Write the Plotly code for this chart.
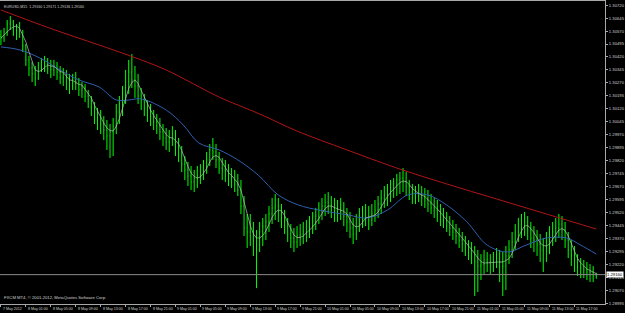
import pandas as pd
import plotly.graph_objects as go

symbol_title = "EURUSD,M15  1.29160 1.29171 1.29136 1.29160"
footer_text = "FXCM MT4, \u00a9 2001-2012, MetaQuotes Software Corp."
bar_start = "2012-05-07 21:00"
first_open = 1.30540
last_price = 1.29160

bar_high = [
1.30576,1.30588,1.30634,1.30657,1.30634,1.30611,1.30623,1.30576,
1.30495,1.30426,1.30391,1.30368,1.30391,1.30414,1.30426,1.30414,
1.30403,1.30403,1.30391,1.30368,1.30356,1.30345,1.30322,1.30322,
1.30333,1.30298,1.30275,1.30264,1.30229,1.30194,1.30159,1.30125,
1.30113,1.30078,1.30055,1.30032,1.30067,1.30148,1.30194,1.30252,
1.30345,1.30403,1.30437,1.30368,1.30322,1.30240,1.30206,1.30171,
1.30148,1.30113,1.30090,1.30067,1.30032,1.30009,1.29997,1.30020,
1.29997,1.29951,1.29905,1.29847,1.29812,1.29789,1.29766,1.29789,
1.29800,1.29824,1.29870,1.29916,1.29951,1.29916,1.29870,1.29835,
1.29824,1.29800,1.29777,1.29766,1.29743,1.29708,1.29615,1.29511,
1.29511,1.29465,1.29418,1.29465,1.29488,1.29511,1.29557,1.29604,
1.29627,1.29604,1.29569,1.29534,1.29488,1.29453,1.29430,1.29441,
1.29453,1.29465,1.29476,1.29499,1.29523,1.29546,1.29580,1.29604,
1.29627,1.29638,1.29615,1.29604,1.29592,1.29604,1.29580,1.29546,
1.29523,1.29488,1.29511,1.29546,1.29557,1.29569,1.29557,1.29569,
1.29592,1.29615,1.29650,1.29673,1.29685,1.29708,1.29719,1.29743,
1.29754,1.29777,1.29754,1.29708,1.29685,1.29673,1.29685,1.29673,
1.29661,1.29650,1.29627,1.29604,1.29592,1.29569,1.29546,1.29523,
1.29499,1.29476,1.29453,1.29430,1.29407,1.29384,1.29360,1.29349,
1.29326,1.29303,1.29279,1.29303,1.29291,1.29279,1.29291,1.29314,
1.29303,1.29291,1.29326,1.29360,1.29407,1.29453,1.29488,1.29511,
1.29523,1.29499,1.29465,1.29441,1.29418,1.29395,1.29372,1.29407,
1.29441,1.29465,1.29488,1.29511,1.29499,1.29465,1.29407,1.29360,
1.29326,1.29279,1.29256,1.29245,1.29233,1.29221,1.29210,1.29171,
]

bar_low = [
1.30489,1.30507,1.30542,1.30576,1.30542,1.30518,1.30530,1.30449,
1.30368,1.30310,1.30275,1.30252,1.30287,1.30333,1.30333,1.30322,
1.30298,1.30310,1.30287,1.30264,1.30252,1.30229,1.30206,1.30229,
1.30229,1.30194,1.30183,1.30159,1.30125,1.30078,1.30032,1.29997,
1.29974,1.29939,1.29882,1.29835,1.29847,1.29974,1.30032,1.30078,
1.30148,1.30206,1.30240,1.30183,1.30148,1.30113,1.30078,1.30044,
1.30020,1.29997,1.29974,1.29939,1.29905,1.29882,1.29870,1.29905,
1.29847,1.29812,1.29754,1.29708,1.29673,1.29650,1.29638,1.29661,
1.29685,1.29708,1.29743,1.29789,1.29824,1.29777,1.29743,1.29708,
1.29696,1.29673,1.29661,1.29638,1.29615,1.29511,1.29384,1.29314,
1.29326,1.29268,1.29082,1.29291,1.29326,1.29360,1.29407,1.29453,
1.29476,1.29465,1.29430,1.29395,1.29349,1.29314,1.29291,1.29314,
1.29326,1.29337,1.29349,1.29372,1.29395,1.29418,1.29453,1.29476,
1.29499,1.29511,1.29488,1.29465,1.29465,1.29476,1.29441,1.29407,
1.29372,1.29337,1.29360,1.29407,1.29430,1.29441,1.29418,1.29441,
1.29465,1.29488,1.29511,1.29546,1.29557,1.29580,1.29604,1.29615,
1.29627,1.29638,1.29615,1.29592,1.29569,1.29569,1.29580,1.29557,
1.29546,1.29523,1.29511,1.29488,1.29465,1.29441,1.29430,1.29407,
1.29384,1.29360,1.29337,1.29314,1.29291,1.29268,1.29245,1.29221,
1.29036,1.29059,1.29129,1.29164,1.29175,1.29164,1.29175,1.29198,
1.29117,1.29036,1.29071,1.29221,1.29256,1.29303,1.29349,1.29372,
1.29384,1.29360,1.29314,1.29291,1.29268,1.29233,1.29175,1.29233,
1.29279,1.29326,1.29349,1.29372,1.29360,1.29314,1.29256,1.29210,
1.29175,1.29152,1.29140,1.29140,1.29129,1.29117,1.29117,1.29136,
]

bar_close = [
1.30530,1.30565,1.30611,1.30623,1.30576,1.30588,1.30553,1.30484,
1.30403,1.30356,1.30322,1.30298,1.30368,1.30379,1.30391,1.30356,
1.30345,1.30368,1.30333,1.30298,1.30322,1.30275,1.30252,1.30287,
1.30275,1.30229,1.30240,1.30194,1.30171,1.30125,1.30078,1.30044,
1.30032,1.29997,1.29963,1.29986,1.30020,1.30102,1.30148,1.30194,
1.30275,1.30333,1.30287,1.30252,1.30194,1.30171,1.30125,1.30090,
1.30067,1.30044,1.30020,1.29986,1.29951,1.29928,1.29951,1.29974,
1.29893,1.29847,1.29800,1.29766,1.29731,1.29696,1.29719,1.29731,
1.29754,1.29789,1.29824,1.29882,1.29870,1.29824,1.29777,1.29766,
1.29743,1.29719,1.29708,1.29685,1.29650,1.29557,1.29430,1.29407,
1.29384,1.29360,1.29337,1.29407,1.29441,1.29465,1.29511,1.29546,
1.29557,1.29523,1.29488,1.29441,1.29395,1.29372,1.29349,1.29384,
1.29395,1.29407,1.29430,1.29441,1.29465,1.29499,1.29534,1.29557,
1.29580,1.29557,1.29534,1.29523,1.29546,1.29534,1.29499,1.29465,
1.29430,1.29395,1.29453,1.29488,1.29511,1.29499,1.29476,1.29511,
1.29534,1.29569,1.29604,1.29627,1.29650,1.29661,1.29685,1.29708,
1.29719,1.29696,1.29673,1.29638,1.29627,1.29638,1.29615,1.29604,
1.29592,1.29569,1.29546,1.29534,1.29511,1.29488,1.29465,1.29441,
1.29430,1.29407,1.29384,1.29360,1.29337,1.29314,1.29303,1.29279,
1.29233,1.29210,1.29221,1.29245,1.29233,1.29210,1.29233,1.29256,
1.29233,1.29210,1.29268,1.29303,1.29349,1.29407,1.29441,1.29453,
1.29465,1.29418,1.29372,1.29360,1.29337,1.29303,1.29314,1.29349,
1.29384,1.29407,1.29430,1.29453,1.29418,1.29360,1.29303,1.29268,
1.29233,1.29210,1.29198,1.29187,1.29175,1.29175,1.29152,1.29160,
]

ma_blue_time = [
"2012-05-07 21:00","2012-05-08 00:00","2012-05-08 03:15","2012-05-08 06:30",
"2012-05-08 09:30","2012-05-08 12:45","2012-05-08 15:30","2012-05-08 17:30",
"2012-05-08 19:30","2012-05-08 23:30","2012-05-09 02:15","2012-05-09 04:45",
"2012-05-09 08:00","2012-05-09 11:00","2012-05-09 14:15","2012-05-09 17:30",
"2012-05-09 20:45","2012-05-10 00:00","2012-05-10 04:45","2012-05-10 07:45",
"2012-05-10 11:00","2012-05-10 14:15","2012-05-10 17:30","2012-05-10 20:30",
"2012-05-10 23:45","2012-05-11 03:00","2012-05-11 06:15","2012-05-11 09:15",
"2012-05-11 12:30","2012-05-11 15:45","2012-05-11 18:00","2012-05-11 20:30",
]
ma_blue_value = [
1.30478,1.30461,1.30414,1.30345,1.30287,1.30246,1.30171,1.30171,
1.30177,1.30113,1.30026,1.29922,1.29882,1.29824,1.29737,1.29621,
1.29563,1.29534,1.29505,1.29488,1.29534,1.29621,1.29621,1.29563,
1.29465,1.29331,1.29291,1.29331,1.29372,1.29372,1.29331,1.29279,
]

ma_red_time = [
"2012-05-07 21:00","2012-05-08 04:45","2012-05-08 12:45","2012-05-08 17:45",
"2012-05-08 23:30","2012-05-09 08:00","2012-05-09 14:30","2012-05-09 20:30",
"2012-05-10 04:30","2012-05-10 12:30","2012-05-10 20:30","2012-05-11 04:30",
"2012-05-11 12:30","2012-05-11 20:30",
]
ma_red_value = [
1.30692,1.30588,1.30489,1.30426,1.30345,1.30188,1.30090,1.29991,
1.29882,1.29777,1.29685,1.29598,1.29511,1.29424,
]

x_tick_time = [
"2012-05-07 21:00","2012-05-08 01:00","2012-05-08 05:00","2012-05-08 09:00",
"2012-05-08 13:00","2012-05-08 17:00","2012-05-08 21:00","2012-05-09 01:00",
"2012-05-09 05:00","2012-05-09 09:00","2012-05-09 13:00","2012-05-09 17:00",
"2012-05-09 21:00","2012-05-10 01:00","2012-05-10 05:00","2012-05-10 09:00",
"2012-05-10 13:00","2012-05-10 17:00","2012-05-10 21:00","2012-05-11 01:00",
"2012-05-11 05:00","2012-05-11 09:00","2012-05-11 13:00","2012-05-11 17:00",
]
x_tick_text = [
"7 May 2012","8 May 01:00","8 May 05:00","8 May 09:00","8 May 13:00","8 May 17:00",
"8 May 21:00","9 May 01:00","9 May 05:00","9 May 09:00","9 May 13:00","9 May 17:00",
"9 May 21:00","10 May 01:00","10 May 05:00","10 May 09:00","10 May 13:00","10 May 17:00",
"10 May 21:00","11 May 01:00","11 May 05:00","11 May 09:00","11 May 13:00","11 May 17:00",
]
y_tick_text = [
"1.30720","1.30645","1.30570","1.30495","1.30420","1.30345","1.30270","1.30195",
"1.30120","1.30045","1.29970","1.29895","1.29820","1.29745","1.29670","1.29595",
"1.29520","1.29445","1.29370","1.29295","1.29220","1.29145","1.29070","1.28995",
]

FONT = "Liberation Sans"
TXT = "#d0d0d0"

times = pd.date_range(bar_start, periods=len(bar_close), freq="30min")
closes = pd.Series(bar_close)
opens = [first_open] + bar_close[:-1]
fast_ma = closes.rolling(4, min_periods=1).mean()

fig = go.Figure()
fig.add_trace(go.Ohlc(
    x=times, open=opens, high=bar_high, low=bar_low, close=bar_close,
    increasing=dict(line=dict(color="#00ff00", width=1)),
    decreasing=dict(line=dict(color="#00ff00", width=1)),
    tickwidth=0.15, showlegend=False, hoverinfo="skip"))
fig.add_trace(go.Scatter(x=ma_red_time, y=ma_red_value, mode="lines",
                         line=dict(color="#b01515", width=1, shape="spline"),
                         showlegend=False, hoverinfo="skip"))
fig.add_trace(go.Scatter(x=ma_blue_time, y=ma_blue_value, mode="lines",
                         line=dict(color="#2f5fb0", width=1, shape="spline"),
                         showlegend=False, hoverinfo="skip"))
fig.add_trace(go.Scatter(x=times, y=fast_ma, mode="lines",
                         line=dict(color="#c0c0c0", width=0.7),
                         showlegend=False, hoverinfo="skip"))

annotations = [
    dict(text=symbol_title, xref="paper", yref="paper", x=0, y=1, xanchor="left",
         yanchor="top", xshift=2, yshift=-2, showarrow=False,
         font=dict(family=FONT, size=3.6, color=TXT)),
    dict(text=footer_text, xref="paper", yref="paper", x=0, y=0, xanchor="left",
         yanchor="bottom", xshift=2, yshift=2, showarrow=False,
         font=dict(family=FONT, size=4.2, color=TXT)),
    dict(text=f"{last_price:.5f}", xref="paper", yref="y", x=1, y=last_price,
         xanchor="left", yanchor="middle", xshift=1, showarrow=False,
         bgcolor="#ffffff", borderpad=0,
         font=dict(family=FONT, size=4.2, color="#000000")),
]
for t, s in zip(x_tick_time, x_tick_text):
    annotations.append(dict(text=s, xref="x", yref="paper", x=t, y=0,
                            xanchor="left", yanchor="top", yshift=-1, showarrow=False,
                            font=dict(family=FONT, size=3.6, color=TXT)))

fig.update_layout(
    width=625, height=313,
    margin=dict(l=0, r=16, t=1, b=9),
    paper_bgcolor="#000000", plot_bgcolor="#000000",
    showlegend=False,
    annotations=annotations,
    shapes=[dict(type="line", xref="paper", yref="y", x0=0, x1=1,
                 y0=last_price, y1=last_price, line=dict(color="#8a8a8a", width=1))],
    xaxis=dict(type="date", range=["2012-05-07 20:51", "2012-05-11 21:54"],
               rangeslider=dict(visible=False), showgrid=False, zeroline=False,
               showline=True, linecolor="#a8a8a8", linewidth=1, mirror=True,
               tickmode="array", tickvals=x_tick_time, showticklabels=False,
               ticks="outside", ticklen=2, tickcolor="#a8a8a8"),
    yaxis=dict(side="right", range=[1.28990, 1.30744], showgrid=False, zeroline=False,
               showline=True, linecolor="#a8a8a8", linewidth=1,
               tickmode="array", tickvals=[float(v) for v in y_tick_text],
               ticktext=y_tick_text, ticks="outside", ticklen=2, tickcolor="#a8a8a8",
               tickfont=dict(family=FONT, size=4.2, color=TXT)),
)

fig.write_html("out.html")
